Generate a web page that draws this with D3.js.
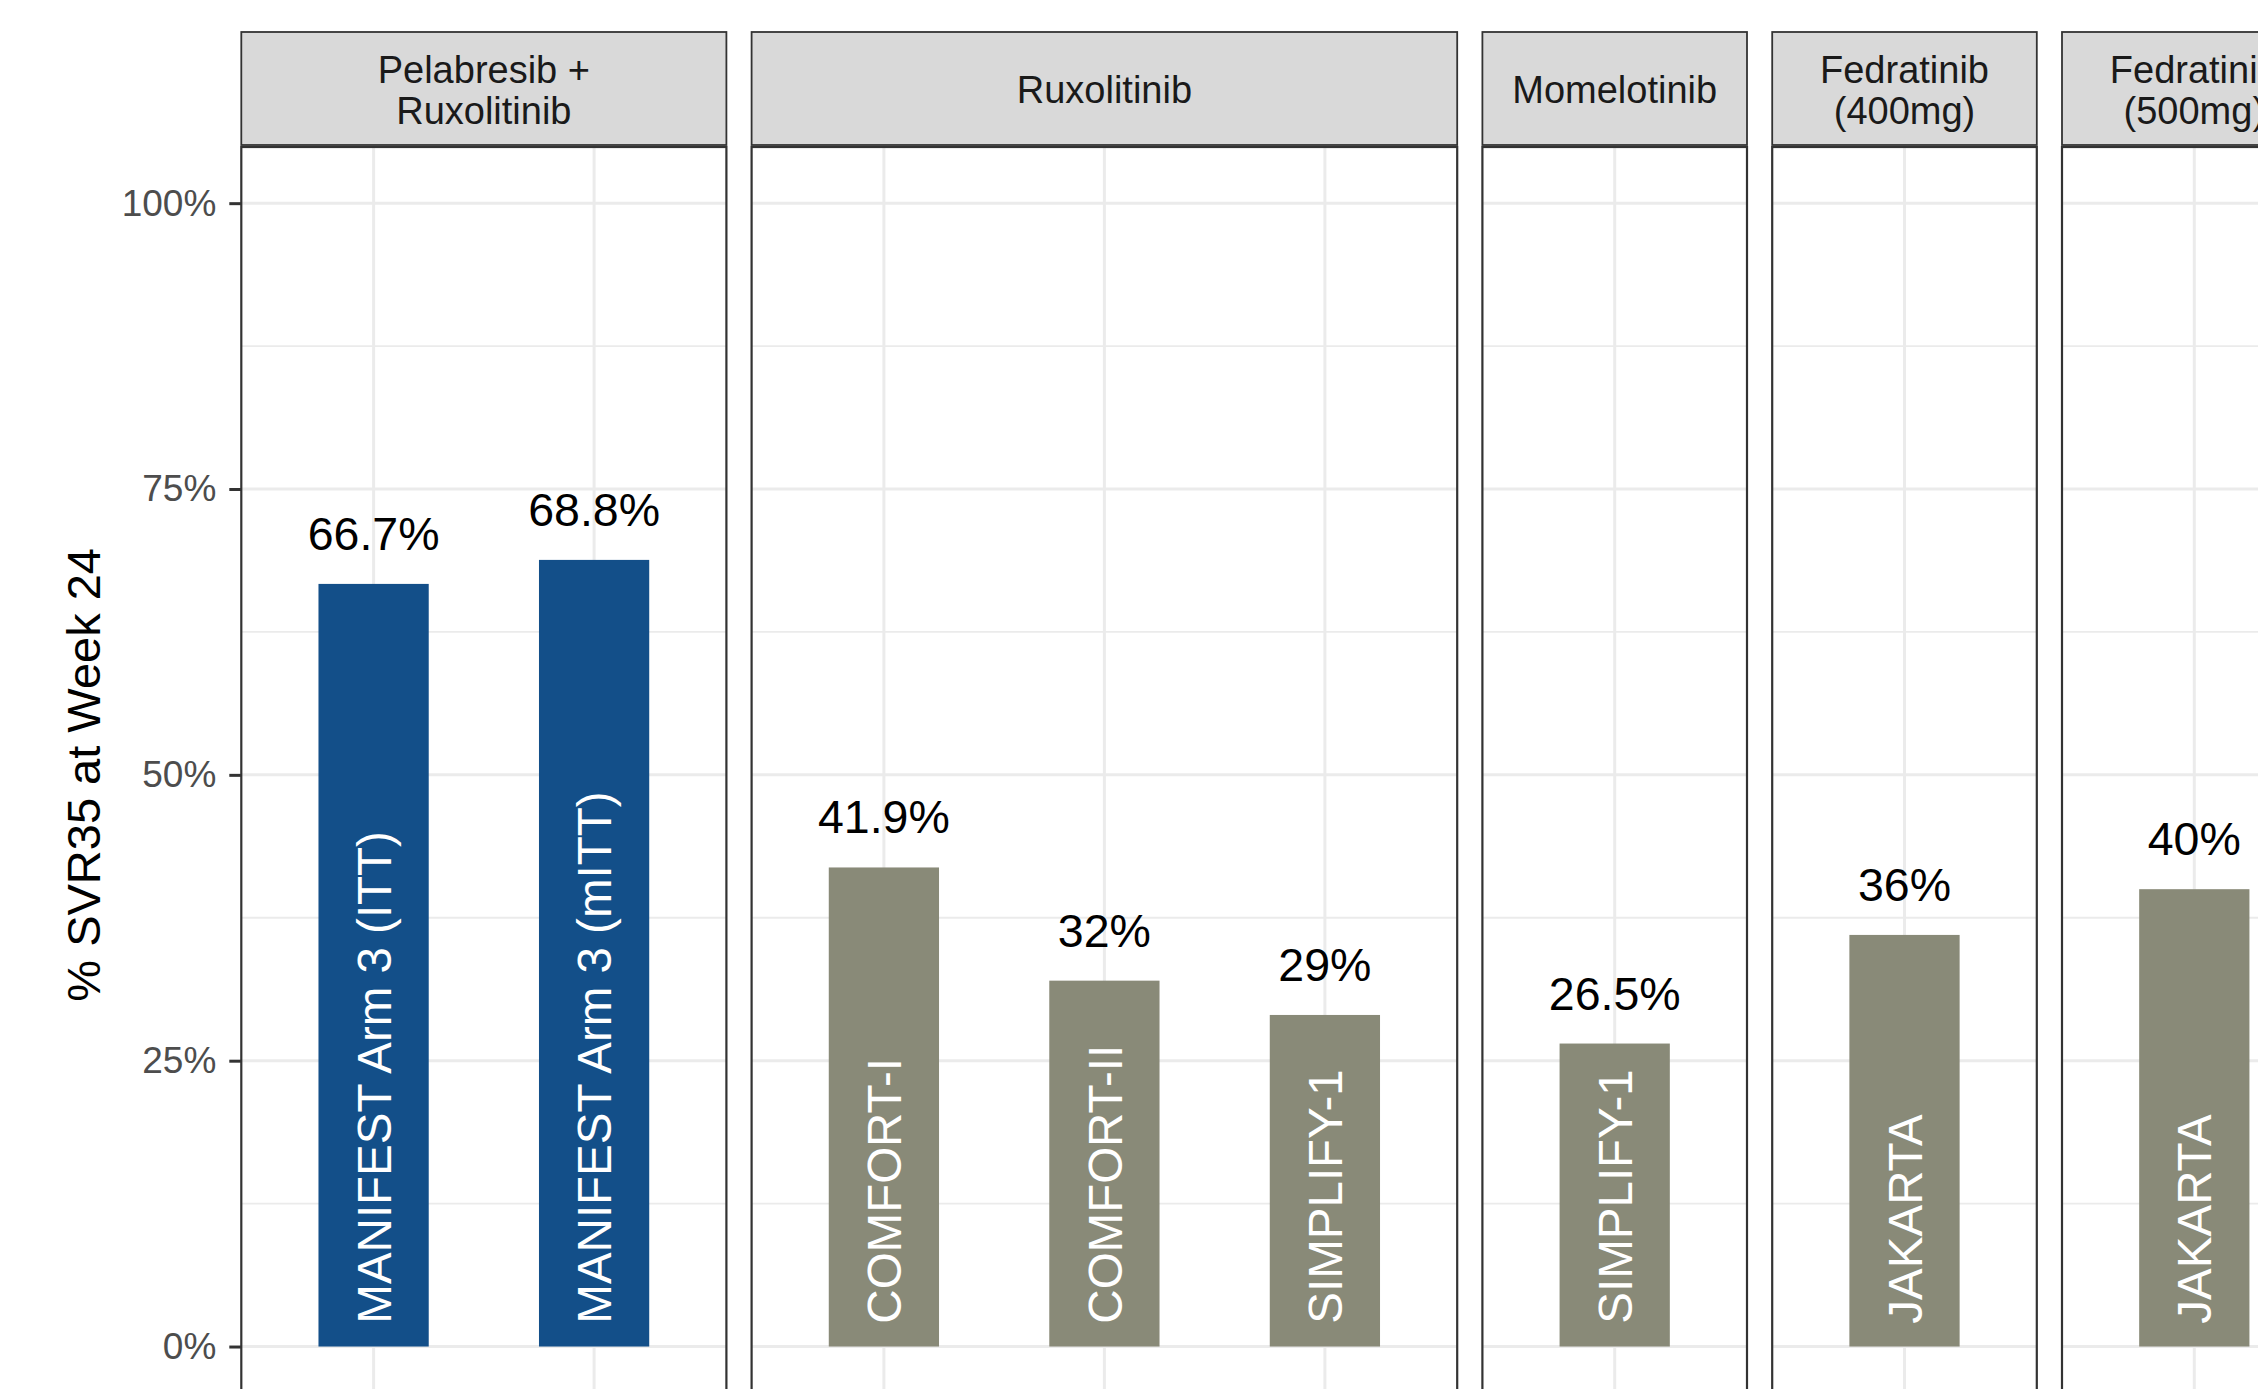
<!DOCTYPE html>
<html>
<head>
<meta charset="utf-8">
<script src="https://cdn.jsdelivr.net/npm/d3@7"></script>
<style>
  html, body { margin: 0; padding: 0; background: #fff; overflow: hidden; }
  svg { display: block; font-family: "Liberation Sans", Arial, Helvetica, sans-serif; }
</style>
</head>
<body>
<svg id="chart" width="2258" height="1389"></svg>
<script>
// Treatment groups (facet strips), in display order
const groups = ["Pelabresib +\nRuxolitinib", "Ruxolitinib", "Momelotinib", "Fedratinib\n(400mg)", "Fedratinib\n(500mg)"];
const groupColors = ["#134F89", "#898A78", "#898A78", "#898A78", "#898A78"];

// One bar per study arm
const studies = ["MANIFEST Arm 3 (ITT)", "MANIFEST Arm 3 (mITT)", "COMFORT-I", "COMFORT-II", "SIMPLIFY-1", "SIMPLIFY-1", "JAKARTA", "JAKARTA"];
const studyGroup = [0, 0, 1, 1, 1, 2, 3, 4];
const svr35 = [66.7, 68.8, 41.9, 32, 29, 26.5, 36, 40];
const valueLabels = ["66.7%", "68.8%", "41.9%", "32%", "29%", "26.5%", "36%", "40%"];

// Axis
const yTicks = [0, 25, 50, 75, 100];
const yMinor = [12.5, 37.5, 62.5, 87.5];
const yTitle = "% SVR35 at Week 24";

const svg = d3.select("#chart");

// Layout
const plotLeft = 241.3, plotRight = 2326.6;
const stripTop = 32, stripBottom = 145, panelTop = 147;
const panelSpacing = 25.2;
const FONT_VAL = 46.5, FONT_IN = 47.5, FONT_TICK = 37, FONT_STRIP = 38, FONT_TITLE = 47;

const y = d3.scaleLinear().domain([-5, 105]).range([1403.7, 146]);

// Per-group bar lists and free-space facet widths (discrete expansion 0.6 per side)
const byGroup = groups.map((g, gi) => studies.map((s, i) => i).filter(i => studyGroup[i] === gi));
const units = byGroup.map(b => b.length + 0.2);
const unit = (plotRight - plotLeft - panelSpacing * (groups.length - 1)) / d3.sum(units);

let cursor = plotLeft;
const panels = groups.map((g, gi) => {
  const w = units[gi] * unit;
  const p = { gi, x0: cursor, x1: cursor + w, idx: byGroup[gi] };
  p.x = d3.scalePoint().domain(p.idx).range([p.x0, p.x1]).padding(0.6);
  cursor += w + panelSpacing;
  return p;
});
const barWidth = 0.5 * unit;
const panelBottom = 1403.7;

panels.forEach(p => {
  const g = svg.append("g");
  // panel background grid
  g.selectAll(".minor").data(yMinor).join("line")
    .attr("x1", p.x0).attr("x2", p.x1)
    .attr("y1", d => y(d)).attr("y2", d => y(d))
    .attr("stroke", "#EBEBEB").attr("stroke-width", 1.8);
  g.selectAll(".major").data(yTicks).join("line")
    .attr("x1", p.x0).attr("x2", p.x1)
    .attr("y1", d => y(d)).attr("y2", d => y(d))
    .attr("stroke", "#EBEBEB").attr("stroke-width", 3);
  g.selectAll(".vgrid").data(p.idx).join("line")
    .attr("x1", d => p.x(d)).attr("x2", d => p.x(d))
    .attr("y1", panelTop).attr("y2", panelBottom)
    .attr("stroke", "#EBEBEB").attr("stroke-width", 3);

  // bars
  g.selectAll(".bar").data(p.idx).join("rect")
    .attr("x", d => p.x(d) - barWidth / 2)
    .attr("width", barWidth)
    .attr("y", d => y(svr35[d]))
    .attr("height", d => y(0) - y(svr35[d]))
    .attr("fill", groupColors[p.gi]);

  // value labels above bars
  g.selectAll(".val").data(p.idx).join("text")
    .attr("x", d => p.x(d))
    .attr("y", d => y(svr35[d]) - 34)
    .attr("text-anchor", "middle")
    .attr("font-size", FONT_VAL)
    .attr("fill", "#000")
    .text(d => valueLabels[d]);

  // study names inside bars, reading upward
  g.selectAll(".study").data(p.idx).join("text")
    .attr("transform", d => `translate(${p.x(d)},${y(2)}) rotate(-90)`)
    .attr("dy", "0.36em")
    .attr("text-anchor", "start")
    .attr("font-size", FONT_IN)
    .attr("fill", "#fff")
    .text(d => studies[d]);

  // panel border
  g.append("rect")
    .attr("x", p.x0).attr("y", panelTop)
    .attr("width", p.x1 - p.x0).attr("height", panelBottom + 20 - panelTop)
    .attr("fill", "none").attr("stroke", "#333").attr("stroke-width", 2.2);

  // strip
  g.append("rect")
    .attr("x", p.x0).attr("y", stripTop)
    .attr("width", p.x1 - p.x0).attr("height", stripBottom - stripTop)
    .attr("fill", "#D9D9D9").attr("stroke", "#333").attr("stroke-width", 1.8);
  const lines = groups[p.gi].split("\n");
  const cx = (p.x0 + p.x1) / 2, cy = (stripTop + stripBottom) / 2 + 1;
  const lh = 41;
  const st = g.append("text")
    .attr("text-anchor", "middle")
    .attr("font-size", FONT_STRIP)
    .attr("fill", "#1A1A1A");
  lines.forEach((ln, li) => {
    st.append("tspan")
      .attr("x", cx)
      .attr("y", cy + 0.358 * FONT_STRIP + (li - (lines.length - 1) / 2) * lh)
      .text(ln);
  });
});

// y axis on the first panel
const axis = d3.axisLeft(y)
  .tickValues(yTicks)
  .tickFormat(d => d + "%")
  .tickSize(12)
  .tickPadding(13);
const ax = svg.append("g").attr("transform", `translate(${plotLeft},0)`).call(axis);
ax.select(".domain").remove();
ax.selectAll(".tick line").attr("stroke", "#333").attr("stroke-width", 3);
ax.selectAll(".tick text")
  .attr("font-size", FONT_TICK)
  .attr("fill", "#4D4D4D")
  .attr("font-family", "'Liberation Sans', Arial, sans-serif");

// y axis title
svg.append("text")
  .attr("transform", `translate(100,${(146 + panelBottom) / 2}) rotate(-90)`)
  .attr("text-anchor", "middle")
  .attr("font-size", FONT_TITLE)
  .attr("fill", "#000")
  .text(yTitle);
</script>
</body>
</html>
